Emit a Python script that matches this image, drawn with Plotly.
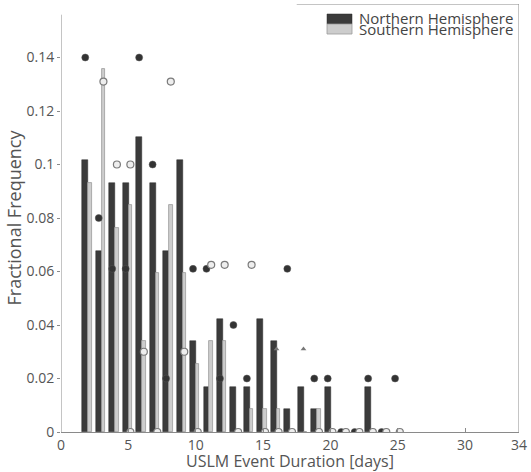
import plotly.graph_objects as go

# Durations (days) for the histogram bins
days = [2, 3, 4, 5, 6, 7, 8, 9, 10, 11, 12, 13, 14, 15, 16, 17, 18, 19, 20, 21, 22, 23]
north_freq = [0.1017, 0.0678, 0.0932, 0.0932, 0.1102, 0.0932, 0.0678, 0.1017, 0.0339, 0.0169,
              0.0424, 0.0169, 0.0169, 0.0424, 0.0339, 0.0085, 0.0169, 0.0085, 0.0169, 0, 0, 0.0169]
south_freq = [0.0932, 0.1356, 0.0763, 0.0847, 0.0339, 0.0593, 0.0847, 0.0593, 0.0254, 0.0339,
              0.0339, 0, 0.0085, 0.0085, 0.0085, 0, 0, 0.0085, 0, 0, 0, 0]

# Overlaid point markers
north_pt_days = [2, 3, 4, 5, 6, 7, 8, 10, 11, 12, 13, 14, 17, 19, 20, 23, 25, 21, 22, 24]
north_pt_vals = [0.140, 0.080, 0.061, 0.061, 0.140, 0.100, 0.020, 0.061, 0.061, 0.020, 0.040,
                 0.020, 0.061, 0.020, 0.020, 0.020, 0.020, 0, 0, 0]
south_pt_days = [3, 4, 5, 6, 8, 9, 11, 12, 14, 5, 7, 10, 13, 15, 16, 17, 19, 20, 21, 22, 23, 24, 25]
south_pt_vals = [0.131, 0.100, 0.100, 0.030, 0.131, 0.030, 0.0625, 0.0625, 0.0625,
                 0, 0, 0, 0, 0, 0, 0, 0, 0, 0, 0, 0, 0, 0]
tri_days = [16, 18]
tri_vals = [0.031, 0.031]

x_ticks = [0, 5, 10, 15, 20, 25, 30, 34]
top_ticks = [20, 25, 30]
y_ticks = [0, 0.02, 0.04, 0.06, 0.08, 0.1, 0.12, 0.14]
y_tick_text = ["0", "0.02", "0.04", "0.06", "0.08", "0.1", "0.12", "0.14"]
legend_labels = ["Northern Hemisphere", "Southern Hemisphere"]

DARK = "#3b3b3b"
LIGHT = "#cdcdcd"
TXT = "#555555"
AX = "#8a8a8a"

L, R, T, B = 61, 12, 4, 40
W, H = 531, 472
PW, PH = W - L - R, H - T - B


def px(xp):
    return (xp - L) / PW


def py(yp):
    return (H - B - yp) / PH


fig = go.Figure()
fig.add_trace(go.Bar(x=days, y=north_freq, name=legend_labels[0],
                     width=0.44, offset=-0.42, showlegend=False,
                     marker=dict(color=DARK, line=dict(color="#2a2a2a", width=0.5))))
fig.add_trace(go.Bar(x=days, y=south_freq, name=legend_labels[1],
                     width=0.26, offset=0.02, showlegend=False,
                     marker=dict(color=LIGHT, line=dict(color="#9a9a9a", width=0.8))))

fig.add_trace(go.Scatter(x=[d - 0.2 for d in north_pt_days], y=north_pt_vals, mode="markers",
                         showlegend=False, hoverinfo="skip",
                         marker=dict(symbol="circle", size=7, color="#333333",
                                     line=dict(color="#555555", width=0.5))))
fig.add_trace(go.Scatter(x=[d + 0.15 for d in south_pt_days], y=south_pt_vals, mode="markers",
                         showlegend=False, hoverinfo="skip",
                         marker=dict(symbol="circle", size=7, color="#eeeeee",
                                     line=dict(color="#7a7a7a", width=1.2))))
fig.add_trace(go.Scatter(x=tri_days, y=tri_vals, mode="markers",
                         showlegend=False, hoverinfo="skip",
                         marker=dict(symbol="triangle-up", size=5, color="#777777")))

# frame pieces
fig.add_shape(type="line", xref="x", yref="y", x0=17.5, x1=34, y0=0.16, y1=0.16,
              line=dict(color=AX, width=1))
fig.add_shape(type="line", xref="x", yref="y", x0=34, x1=34, y0=0, y1=0.16,
              line=dict(color=AX, width=1))
fig.add_shape(type="line", xref="x", yref="y", x0=0, x1=0, y0=0, y1=0.156,
              line=dict(color=AX, width=1))

# legend (patches + labels)
fig.add_shape(type="rect", xref="paper", yref="paper", x0=px(327), x1=px(352), y0=py(24), y1=py(14),
              fillcolor=DARK, line=dict(color="#2a2a2a", width=0.5))
fig.add_shape(type="rect", xref="paper", yref="paper", x0=px(327), x1=px(352), y0=py(34), y1=py(24),
              fillcolor=LIGHT, line=dict(color="#9a9a9a", width=0.8))
fig.add_annotation(xref="paper", yref="paper", x=px(357), y=py(18), text=legend_labels[0],
                   showarrow=False, xanchor="left", yanchor="middle",
                   font=dict(size=15, color="#444444"))
fig.add_annotation(xref="paper", yref="paper", x=px(357), y=py(29), text=legend_labels[1],
                   showarrow=False, xanchor="left", yanchor="middle",
                   font=dict(size=15, color="#444444"))

fig.update_layout(
    width=W, height=H,
    margin=dict(l=L, r=R, t=T, b=B, autoexpand=False),
    paper_bgcolor="white", plot_bgcolor="white",
    barmode="overlay", bargap=0,
    font=dict(family="Open Sans, sans-serif", color=TXT, size=14),
    showlegend=False,
    xaxis=dict(range=[0, 34], tickvals=x_ticks, ticktext=[str(v) for v in x_ticks],
               showgrid=False, zeroline=False, showline=True, linecolor=AX,
               ticks="inside", ticklen=4, tickcolor=AX, automargin=False,
               title=dict(text="USLM Event Duration [days]", font=dict(size=16, color=TXT), standoff=0),
               tickfont=dict(size=14, color=TXT)),
    xaxis2=dict(range=[0, 34], overlaying="x", side="top", anchor="y", tickvals=top_ticks,
                showticklabels=False, ticks="inside", ticklen=4, tickcolor=AX,
                showgrid=False, zeroline=False, showline=False, automargin=False),
    yaxis=dict(range=[0, 0.16], tickvals=y_ticks, ticktext=y_tick_text,
               showgrid=False, zeroline=False, showline=False,
               ticks="outside", ticklen=3, tickcolor=AX, automargin=False,
               title=dict(text="Fractional Frequency", font=dict(size=18, color=TXT), standoff=0),
               tickfont=dict(size=14, color=TXT)),
)

fig.write_html("out.html", config={"displayModeBar": False},
               post_script="document.body.style.margin='0';")
